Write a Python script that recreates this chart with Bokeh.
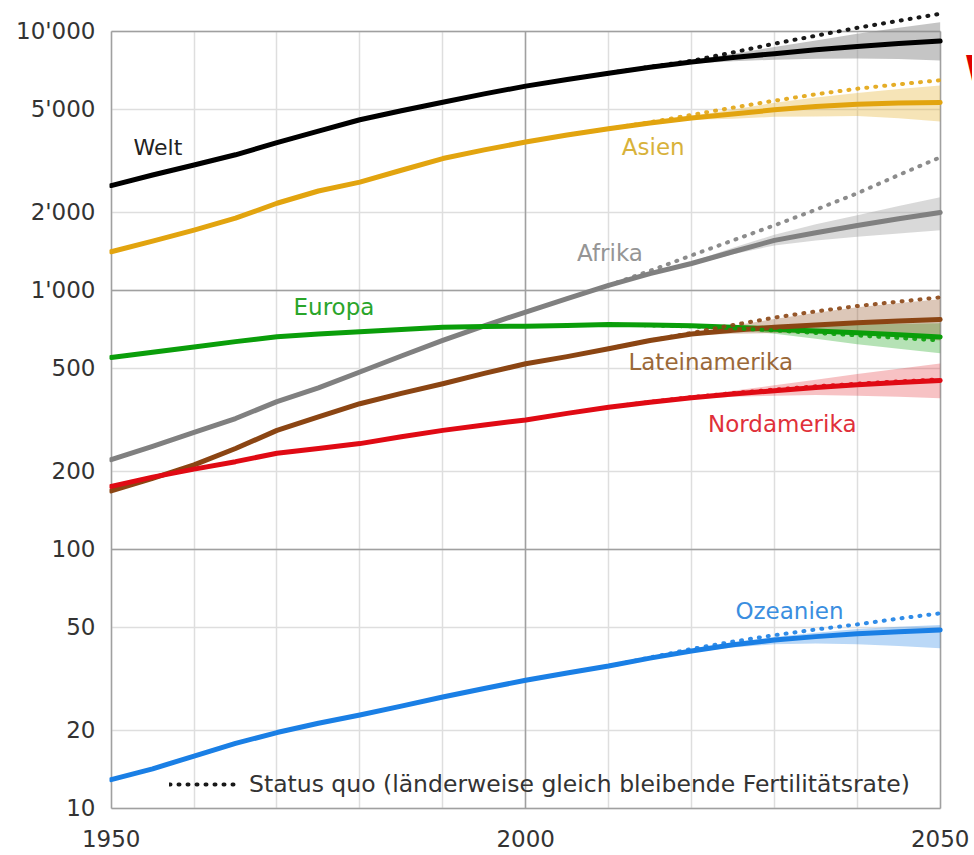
from bokeh.plotting import figure
from bokeh.models import (Range1d, FixedTicker, Grid, Label, Legend, LegendItem,
                          CustomJSTickFormatter)
from bokeh.embed import file_html
from bokeh.resources import INLINE

# ---------------- data (millions) ----------------
years = list(range(1950, 2051, 5))
years_sq = list(range(2010, 2051, 5))
years_band = list(range(2015, 2051, 5))

welt = [2540, 2790, 3050, 3340, 3720, 4120, 4560, 4940, 5330, 5740, 6150,
        6520, 6900, 7270, 7620, 7930, 8210, 8500, 8750, 8980, 9180]
asien = [1410, 1550, 1710, 1900, 2170, 2420, 2620, 2910, 3230, 3490, 3740,
         3980, 4210, 4430, 4630, 4800, 4980, 5130, 5240, 5290, 5320]
afrika = [222, 250, 283, 320, 372, 420, 484, 558, 641, 730, 825,
          930, 1045, 1160, 1270, 1410, 1560, 1670, 1780, 1890, 2000]
europa = [551, 577, 604, 634, 662, 678, 692, 706, 720, 726, 727,
          732, 738, 735, 730, 720, 708, 697, 686, 674, 661]
lateinamerika = [168, 188, 212, 245, 288, 325, 365, 400, 436, 478, 521,
                 555, 595, 640, 678, 702, 720, 735, 750, 762, 772]
nordamerika = [175, 190, 204, 218, 235, 245, 256, 272, 288, 302, 316,
               335, 354, 370, 385, 398, 410, 422, 432, 441, 449]
ozeanien = [12.9, 14.2, 15.9, 17.8, 19.6, 21.3, 22.9, 24.8, 26.9, 29.0, 31.2,
            33.3, 35.4, 38.0, 40.5, 42.8, 44.6, 46.0, 47.2, 48.0, 48.8]

# status quo (constant fertility)
welt_sq = [6900, 7300, 7700, 8300, 8970, 9630, 10330, 11000, 11700]
asien_sq = [4210, 4460, 4760, 5080, 5400, 5720, 6010, 6250, 6480]
afrika_sq = [1045, 1190, 1365, 1560, 1783, 2050, 2372, 2790, 3266]
europa_sq = [738, 733, 726, 714, 700, 685, 670, 655, 641]
latein_sq = [595, 640, 685, 735, 785, 830, 870, 905, 940]
nord_sq = [354, 371, 387, 401, 414, 426, 436, 445, 453]
ozean_sq = [35.4, 38.2, 41.2, 44.0, 46.6, 49.0, 51.3, 54.0, 56.6]

# uncertainty bands
welt_hi = [7270, 7750, 8200, 8700, 9230, 9800, 10330, 10860]
welt_lo = [7270, 7500, 7680, 7780, 7850, 7870, 7820, 7730]
asien_hi = [4430, 4700, 5000, 5300, 5560, 5780, 5990, 6190]
asien_lo = [4430, 4560, 4600, 4680, 4690, 4720, 4620, 4490]
afrika_hi = [1160, 1290, 1460, 1640, 1800, 1950, 2120, 2290]
afrika_lo = [1160, 1250, 1380, 1490, 1560, 1610, 1660, 1706]
europa_hi = [737, 735, 735, 735, 738, 740, 743, 746]
europa_lo = [733, 725, 705, 680, 650, 620, 595, 572]
latein_hi = [640, 685, 730, 775, 820, 860, 893, 925]
latein_lo = [640, 670, 680, 685, 682, 675, 660, 640]
nord_hi = [370, 390, 410, 430, 452, 475, 498, 522]
nord_lo = [370, 380, 388, 392, 394, 392, 388, 383]
ozean_hi = [38.0, 41.0, 43.7, 45.8, 47.6, 49.2, 50.2, 51.0]
ozean_lo = [38.0, 40.0, 41.8, 43.0, 43.3, 43.0, 42.3, 41.5]

x_ticks = [1950, 2000, 2050]
x_grid = list(range(1950, 2051, 10))
y_ticks = [10, 20, 50, 100, 200, 500, 1000, 2000, 5000, 10000]
y_major = [10, 100, 1000, 10000]

label_names = ["Welt", "Asien", "Afrika", "Europa", "Lateinamerika", "Nordamerika", "Ozeanien"]
label_x = [1952.7, 2011.6, 2006.2, 1972.0, 2012.4, 2022.0, 2025.3]
label_y = [3565, 3565, 1390, 860, 527, 306, 57.7]

legend_text = "Status quo (länderweise gleich bleibende Fertilitätsrate)"
title_fragment = "W"

# ---------------- styles ----------------
FONT = "DejaVu Sans"
series = [
    ("Welt", welt, welt_sq, welt_hi, welt_lo, "#000000", "#222222", "#8c8c8c", 0.5),
    ("Asien", asien, asien_sq, asien_hi, asien_lo, "#e2a40f", "#d8b23a", "#e2a40f", 0.3),
    ("Afrika", afrika, afrika_sq, afrika_hi, afrika_lo, "#808080", "#959595", "#a0a0a0", 0.4),
    ("Europa", europa, europa_sq, europa_hi, europa_lo, "#0a9e0a", "#2aa52a", "#0a9e0a", 0.3),
    ("Lateinamerika", lateinamerika, latein_sq, latein_hi, latein_lo, "#8b4513", "#9a6838", "#8b4513", 0.3),
    ("Nordamerika", nordamerika, nord_sq, nord_hi, nord_lo, "#e00a14", "#e0303a", "#e00a14", 0.25),
    ("Ozeanien", ozeanien, ozean_sq, ozean_hi, ozean_lo, "#1a7fe5", "#3a8ee0", "#1a7fe5", 0.3),
]

p = figure(x_range=Range1d(1949.8, 2053.9), y_range=Range1d(9.8, 13170),
           y_axis_type="log", frame_width=863, frame_height=810,
           min_border_left=109, min_border_right=0, min_border_top=0,
           min_border_bottom=44, output_backend="svg", toolbar_location=None,
           background_fill_color="white", border_fill_color="white")
p.outline_line_color = None

# axes
for ax in (p.xaxis[0], p.yaxis[0]):
    ax.axis_line_color = None
    ax.major_tick_line_color = None
    ax.minor_tick_line_color = None
    ax.major_label_text_font = FONT
    ax.major_label_text_font_size = "23px"
    ax.major_label_text_color = "#333333"
p.xaxis[0].ticker = FixedTicker(ticks=x_ticks)
p.xaxis[0].major_label_standoff = 13
p.yaxis[0].ticker = FixedTicker(ticks=y_ticks)
p.yaxis[0].major_label_standoff = 8
p.yaxis[0].formatter = CustomJSTickFormatter(
    code="return tick >= 1000 ? Math.round(tick/1000) + \"'000\" : Math.round(tick).toString();")

# grids
xg = p.xgrid[0]
xg.ticker = FixedTicker(ticks=x_grid)
xg.grid_line_color = "#dedede"
xg.grid_line_width = 1.5
yg = p.ygrid[0]
yg.ticker = FixedTicker(ticks=y_ticks)
yg.grid_line_color = "#dedede"
yg.grid_line_width = 1.5
xg2 = Grid(dimension=0, ticker=FixedTicker(ticks=x_ticks),
           grid_line_color="#a0a0a0", grid_line_width=1.5)
yg2 = Grid(dimension=1, ticker=FixedTicker(ticks=y_major),
           grid_line_color="#a0a0a0", grid_line_width=1.5)
for g, cb in ((xg, (10, 10000)), (xg2, (10, 10000)), (yg, (1950, 2050)), (yg2, (1950, 2050))):
    try:
        g.cross_bounds = cb
    except Exception:
        pass
p.add_layout(xg2)
p.add_layout(yg2)

# bands
for name, vals, sq, hi, lo, col, tcol, bcol, balpha in series:
    p.varea(x=years_band, y1=lo, y2=hi, fill_color=bcol, fill_alpha=balpha)

# solid lines
for name, vals, sq, hi, lo, col, tcol, bcol, balpha in series:
    p.line(years, vals, line_color=col, line_width=5, line_join="round", line_cap="round")

# dotted status-quo lines
sq_renderers = {}
for name, vals, sq, hi, lo, col, tcol, bcol, balpha in series:
    r = p.line(years_sq, sq, line_color=col, line_width=4, line_dash="1 8",
               line_cap="round", line_alpha=0.9)
    sq_renderers[name] = r

# labels
colors_txt = {s[0]: s[6] for s in series}
for nm, lx, ly in zip(label_names, label_x, label_y):
    p.add_layout(Label(x=lx, y=ly, text=nm, text_color=colors_txt[nm],
                       text_font=FONT, text_font_size=("22px" if nm == "Welt" else "23px"),
                       text_align="left", text_baseline="middle"))

# cut-off title letter at the right edge
p.add_layout(Label(x=2053.0, y=7200, text=title_fragment, text_color="#e00000",
                   text_font=FONT, text_font_size="36px", text_font_style="bold",
                   text_align="left", text_baseline="middle"))

legend = Legend(items=[LegendItem(label=legend_text, renderers=[sq_renderers["Welt"]])],
                location=(60, 12), background_fill_alpha=0, border_line_color=None,
                padding=0, margin=0, glyph_width=68, glyph_height=24,
                label_height=24, label_standoff=12, label_text_font=FONT,
                label_text_font_size="23.5px", label_text_color="#333333")
p.add_layout(legend)

open("out.html", "w").write(file_html(p, INLINE))
